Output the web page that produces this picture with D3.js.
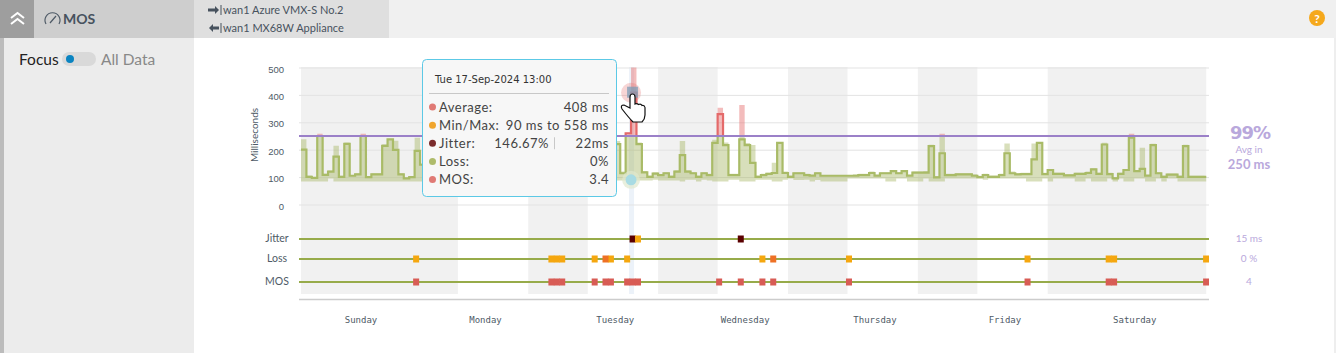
<!DOCTYPE html>
<meta charset="utf-8">
<script src="https://d3js.org/d3.v7.min.js"></script>
<style type="text/css">
html, body { margin: 0; padding: 0; overflow: hidden; background: #fff; }
svg { display: block; font-family: Lato, sans-serif; }
.axis path { display: none; }
.y line { stroke: #e3e3e3; }
.y text { fill: #4e5a66; font-size: 9.5px; }
.days line { display: none; }
.days text { fill: #4e5a66; font-size: 9px; font-family: "DejaVu Sans Mono", monospace; }
.rowname { fill: #4e5a66; font-size: 10.5px; text-anchor: middle; }
.side { fill: #b9a8dc; text-anchor: middle; }
.tip { fill: #444; font-size: 13px; letter-spacing: 0.5px; }
</style>
<body>
<div id="canvas"></div>
<script>
// hourly values, hours 0..167 from Sunday 00:00
// hours 23-57 sit behind the tooltip, so they are only a guess
var avgMs = [
  200,101,97,250,108,120,175,101,221,105,110,250,100,110,110,214,238,199,110,95,100,196,145,
  108,104,101,112,106,100,103,118,104,99,107,110,102,105,190,112,104,101,108,115,103,106,104,109,
  180,210,170,118,105,102,110,195,120,108,220,
  220,114,260,408,220,117,101,113,107,114,101,120,180,120,114,101,114,107,225,330,217,107,107,238,217,152,
  101,107,112,115,225,115,101,114,114,107,105,114,105,105,105,105,105,105,105,107,107,115,105,114,
  114,122,114,122,105,116,116,116,213,99,187,107,107,110,110,110,105,100,107,101,101,107,187,114,
  110,111,111,165,225,111,126,112,112,106,106,112,112,115,128,112,219,111,95,112,126,244,122,130,
  105,217,114,101,109,109,101,213,101,101,101,101
];
var maxMs = [
  238,106,100,258,112,124,214,105,226,108,114,258,104,114,114,220,240,233,114,98,104,244,150,
  114,110,106,118,112,106,109,124,110,105,113,116,108,111,198,118,110,107,114,122,109,112,110,115,
  190,218,178,124,111,108,116,204,126,114,232,
  232,120,262,558,226,122,106,118,110,118,106,125,232,125,118,106,118,112,236,353,226,112,112,363,224,217,
  106,112,116,152,228,120,106,118,118,112,110,118,108,108,108,108,108,108,110,112,112,120,110,118,
  118,126,118,126,110,120,120,122,218,104,258,112,112,114,114,114,110,105,112,106,106,112,223,120,
  114,116,116,223,228,116,130,116,116,110,110,116,116,120,132,116,225,116,100,116,130,258,126,207,
  110,222,118,106,113,113,106,218,105,105,105,104
];
var minMs = [
  84,84,84,84,84,95,84,84,84,84,84,84,84,84,84,84,84,84,84,84,84,84,84,
  90,90,88,90,90,88,90,90,88,90,90,88,90,90,90,88,90,90,88,90,90,88,90,88,
  90,90,88,90,90,88,90,90,88,90,90,
  88,88,90,90,88,88,88,90,88,88,88,88,84,90,90,84,90,88,84,84,84,90,90,84,84,84,
  90,90,90,84,84,90,95,89,89,90,84,89,84,84,84,84,84,95,95,95,95,95,95,95,
  84,84,95,95,84,84,84,95,84,84,84,95,95,95,95,95,95,95,90,95,95,95,95,95,
  95,95,84,84,84,95,84,95,95,95,95,84,84,95,84,84,84,95,84,95,84,84,95,95,
  84,84,95,84,95,95,84,84,84,84,84,84
];

var threshold = 250;
var hoverHour = 61;
var yTicks = [0, 100, 200, 300, 400, 500];

// night and weekend shading, [start hour, end hour]
var shaded = [[0, 29], [42, 53], [66, 77], [90, 101], [114, 125], [138, 167.3]];

var dayNames = ["Sunday", "Monday", "Tuesday", "Wednesday", "Thursday", "Friday", "Saturday"];
var dayHours = [11, 34, 58, 82, 106, 130, 154];

var rows = ["Jitter", "Loss", "MOS"];
var rowValues = ["15 ms", "0 %", "4"];
var jitterDark = [61, 81];
var jitterWarn = [62];
var lossWarn = [21, 46, 47, 48, 54, 57, 60, 85, 101, 134, 149, 150, 167];
var lossOrange = [56, 87];
var mosBad = [21, 46, 47, 48, 54, 56, 57, 60, 61, 62, 77, 81, 85, 87, 101, 134, 149, 150, 167];

var tipDate = "Tue 17-Sep-2024 13:00";
var tipLabels = ["Average:", "Min/Max:", "Jitter:", "Loss:", "MOS:"];
var tipValues = ["408 ms", "90 ms to 558 ms", "22ms", "0%", "3.4"];
var tipDots = ["#e07a75", "#f0a52d", "#7a2b2b", "#aebb6b", "#e07a75"];

var width = 1336, height = 353;
var svg = d3.select("#canvas").append("svg").attr("width", width).attr("height", height);

// scales ----------------------------------------------------------
var x = d3.scaleLinear().domain([0, 168]).range([301, 1210]);
var y = d3.scaleLinear().domain([0, 500]).range([204.5, 67.5]).clamp(true);
var rowY = d3.scaleOrdinal().domain(rows).range([239, 259, 282]);
var endHour = 167.3;

// page frame ------------------------------------------------------
svg.append("rect").attr("x", 0).attr("y", 0).attr("width", width).attr("height", 38).attr("fill", "#f0f0f0");
svg.append("rect").attr("x", 0).attr("y", 38).attr("width", 194).attr("height", 315).attr("fill", "#ececec");
svg.append("rect").attr("x", 0).attr("y", 38).attr("width", 4).attr("height", 315).attr("fill", "#bcbcbc");
svg.append("rect").attr("x", 0).attr("y", 0).attr("width", 34).attr("height", 38).attr("fill", "#9e9e9e");
svg.append("rect").attr("x", 34).attr("y", 0).attr("width", 160).attr("height", 38).attr("fill", "#cecece");
svg.append("rect").attr("x", 194).attr("y", 0).attr("width", 195).attr("height", 38).attr("fill", "#dfdfdf");
svg.append("rect").attr("x", 1334).attr("y", 38).attr("width", 2).attr("height", 315).attr("fill", "#eeeeee");

svg.append("path").attr("d", "M11 18 L17.5 13 L24 18 M11 24 L17.5 19 L24 24")
  .attr("fill", "none").attr("stroke", "#fff").attr("stroke-width", 2);
svg.append("path").attr("d", "M46 24 A7.5 7.5 0 1 1 59 24 M50 23 L56 16")
  .attr("fill", "none").attr("stroke", "#4e5a66").attr("stroke-width", 1.2);
svg.append("text").attr("x", 63).attr("y", 24).text("MOS")
  .attr("fill", "#47525e").attr("font-size", 14).attr("font-weight", 700);

svg.append("path").attr("d", "M208 8.5 H215 V6 L219 10 L215 14 V11.5 H208 Z M220.5 5 H221.5 V15 H220.5 Z").attr("fill", "#47525e");
svg.append("path").attr("d", "M219 26.5 H213 V24 L209 28 L213 32 V29.5 H219 Z M220.5 23 H221.5 V33 H220.5 Z").attr("fill", "#47525e");
svg.append("text").attr("x", 223).attr("y", 14).text("wan1 Azure VMX-S No.2").attr("fill", "#47525e").attr("font-size", 11);
svg.append("text").attr("x", 223).attr("y", 32).text("wan1 MX68W Appliance").attr("fill", "#47525e").attr("font-size", 11);

svg.append("circle").attr("cx", 1317).attr("cy", 18).attr("r", 8).attr("fill", "#f5a81c");
svg.append("text").attr("x", 1317).attr("y", 22.5).attr("text-anchor", "middle").text("?")
  .attr("fill", "#fff").attr("font-size", 12).attr("font-weight", 700);

svg.append("text").attr("x", 19).attr("y", 65).text("Focus").attr("fill", "#222").attr("font-size", 15.5);
svg.append("rect").attr("x", 62).attr("y", 52).attr("width", 34).attr("height", 14).attr("rx", 7).attr("fill", "#d9d9d9");
svg.append("circle").attr("cx", 70).attr("cy", 59).attr("r", 4).attr("fill", "#0a84c1");
svg.append("text").attr("x", 101).attr("y", 65).text("All Data").attr("fill", "#888").attr("font-size", 15.5);

// shaded bands ----------------------------------------------------
svg.selectAll(".shade").data(shaded).enter().append("rect")
  .attr("class", "shade")
  .attr("x", function(d) { return x(d[0]); })
  .attr("y", 67)
  .attr("width", function(d) { return x(d[1]) - x(d[0]); })
  .attr("height", 227)
  .attr("fill", "#f1f1f1");

// hovered hour column
svg.append("rect").attr("x", x(hoverHour) - 2).attr("y", 67).attr("width", 5).attr("height", 227)
  .attr("fill", "#dfe9f5").attr("opacity", 0.6);

// y axis with grid ------------------------------------------------
var yAxis = svg.append("g").attr("class", "axis y")
  .attr("transform", "translate(299,0)")
  .call(d3.axisLeft(y).tickValues(yTicks).tickSize(-910).tickPadding(15).tickFormat(d3.format("d")));
yAxis.selectAll("text").attr("transform", "translate(0,1.5)");

svg.append("text").attr("transform", "translate(258,135) rotate(-90)")
  .attr("text-anchor", "middle").text("Milliseconds")
  .attr("fill", "#4e5a66").attr("font-size", 10);

// latency band and line, split at the threshold -------------------
var defs = svg.append("defs");
defs.append("clipPath").attr("id", "under").append("rect")
  .attr("x", 290).attr("y", y(threshold)).attr("width", 930).attr("height", 100);
defs.append("clipPath").attr("id", "over").append("rect")
  .attr("x", 290).attr("y", 60).attr("width", 930).attr("height", y(threshold) - 60);

var hours = d3.range(avgMs.length).concat([endHour]);
function at(arr, i) { return arr[Math.min(i, arr.length - 1)]; }

var band = d3.area().curve(d3.curveStepAfter)
  .x(function(d) { return x(d); })
  .y0(function(d, i) { return y(at(minMs, i)); })
  .y1(function(d, i) { return y(at(maxMs, i)); });
var line = d3.line().curve(d3.curveStepAfter)
  .x(function(d) { return x(d); })
  .y(function(d, i) { return y(at(avgMs, i)); });

[["under", "#a3b35c", "#a9bb67"], ["over", "#e57373", "#e46a6a"]].forEach(function(s) {
  var g = svg.append("g").attr("clip-path", "url(#" + s[0] + ")");
  g.append("path").attr("d", band(hours)).attr("fill", s[1]).attr("opacity", s[0] == "under" ? 0.42 : 0.48);
  g.append("path").attr("d", line(hours)).attr("fill", "none").attr("stroke", s[2]).attr("stroke-width", 2.2);
});

svg.append("line").attr("x1", 299).attr("x2", 1209).attr("y1", y(threshold)).attr("y2", y(threshold))
  .attr("stroke", "#9b80c8").attr("stroke-width", 2);

// hover markers
svg.append("circle").attr("cx", x(hoverHour)).attr("cy", y(avgMs[hoverHour])).attr("r", 10).attr("fill", "#e57373").attr("opacity", 0.3);
svg.append("rect").attr("x", x(hoverHour) - 4).attr("y", y(avgMs[hoverHour]) - 6).attr("width", 11).attr("height", 11).attr("fill", "#7d9cb5").attr("opacity", 0.75);
svg.append("circle").attr("cx", x(hoverHour)).attr("cy", y(minMs[hoverHour])).attr("r", 9).attr("fill", "#dfe8cf").attr("opacity", 0.7);
svg.append("circle").attr("cx", x(hoverHour)).attr("cy", y(minMs[hoverHour])).attr("r", 5.5).attr("fill", "#a8dbe3");

// status rows -----------------------------------------------------
svg.selectAll(".rowline").data(rows).enter().append("line")
  .attr("class", "rowline")
  .attr("x1", 299).attr("x2", 1209)
  .attr("y1", function(d) { return rowY(d); })
  .attr("y2", function(d) { return rowY(d); })
  .attr("stroke", "#97ab4a").attr("stroke-width", 2);

function marks(list, row, color) {
  svg.selectAll(null).data(list).enter().append("rect")
    .attr("x", function(d) { return x(d) - 1.5; })
    .attr("y", rowY(row) - 3.5)
    .attr("width", function(d) { return Math.min(x(d + 1) - x(d) + 0.6, 1209 - x(d) + 1.5); })
    .attr("height", 7)
    .attr("fill", color);
}
marks(jitterDark, "Jitter", "#5a0000");
marks(jitterWarn, "Jitter", "#f5a70f");
marks(lossWarn, "Loss", "#f5a70f");
marks(lossOrange, "Loss", "#ee7125");
marks(mosBad, "MOS", "#d85c55");

svg.selectAll(".rowname").data(rows).enter().append("text")
  .attr("class", "rowname").attr("x", 277)
  .attr("y", function(d) { return rowY(d) + 3; })
  .text(function(d) { return d; });

svg.selectAll(".rowvalue").data(rowValues).enter().append("text")
  .attr("class", "side").attr("x", 1249)
  .attr("y", function(d, i) { return rowY(rows[i]) + 3; })
  .attr("font-size", 10)
  .text(function(d) { return d; });

// bottom axis -----------------------------------------------------
svg.append("line").attr("x1", 299).attr("x2", 1209).attr("y1", 299.5).attr("y2", 299.5)
  .attr("stroke", "#cccccc").attr("stroke-width", 1.5);
svg.append("g").attr("class", "axis days")
  .attr("transform", "translate(0,299)")
  .call(d3.axisBottom(x).tickValues(dayHours).tickSize(0).tickPadding(18)
    .tickFormat(function(d, i) { return dayNames[i]; }));

// threshold summary -----------------------------------------------
svg.append("text").attr("class", "side").attr("x", 1250).attr("y", 139).attr("font-size", 18).attr("font-weight", 700)
  .attr("font-family", "'DejaVu Sans', sans-serif").attr("letter-spacing", -1).text("99%");
svg.append("text").attr("class", "side").attr("x", 1249).attr("y", 153).attr("font-size", 10).text("Avg in");
svg.append("text").attr("class", "side").attr("x", 1249).attr("y", 169).attr("font-size", 13).attr("font-weight", 700).text("250 ms");

// tooltip ---------------------------------------------------------
svg.append("rect").attr("x", 422.5).attr("y", 59.5).attr("width", 194).attr("height", 137).attr("rx", 4)
  .attr("fill", "#f7f7f7").attr("stroke", "#5cc9e6");
svg.append("text").attr("x", 435).attr("y", 83).attr("fill", "#333").attr("font-size", 10)
  .attr("font-family", "'DejaVu Sans', sans-serif").text(tipDate);
svg.append("line").attr("x1", 429).attr("x2", 609).attr("y1", 93.5).attr("y2", 93.5).attr("stroke", "#c8c8c8");

var tipY = d3.scalePoint().domain(tipLabels).range([107, 179.5]);
var tip = svg.selectAll(".tiprow").data(tipLabels).enter().append("g")
  .attr("class", "tiprow")
  .attr("transform", function(d) { return "translate(0," + tipY(d) + ")"; });
tip.append("circle").attr("cx", 432.5).attr("r", 3.5).attr("fill", function(d, i) { return tipDots[i]; });
tip.append("text").attr("class", "tip").attr("x", 439).attr("y", 4.5).text(function(d) { return d; });
tip.append("text").attr("class", "tip").attr("x", 609).attr("y", 4.5).attr("text-anchor", "end")
  .text(function(d, i) { return tipValues[i]; });
svg.append("text").attr("class", "tip").attr("x", 549).attr("y", tipY("Jitter:") + 4.5).attr("text-anchor", "end").text("146.67%");
svg.append("line").attr("x1", 554.5).attr("x2", 554.5).attr("y1", tipY("Jitter:") - 6).attr("y2", tipY("Jitter:") + 6).attr("stroke", "#c8c8c8");

// hand cursor
svg.append("path")
  .attr("d", "M630 108 L630 97 Q630 94 632.5 94 Q635 94 635 97 L635 104 Q637 103 638.5 104.5 Q641 103.5 642 105.5 Q644.5 105 645 107.5 L645 115 Q645 119 642 122 L633 122 Q629 118 622 109 Q620 105 624 105 Z")
  .attr("fill", "#fff").attr("stroke", "#111").attr("stroke-width", 1.2);
</script>
</body>
